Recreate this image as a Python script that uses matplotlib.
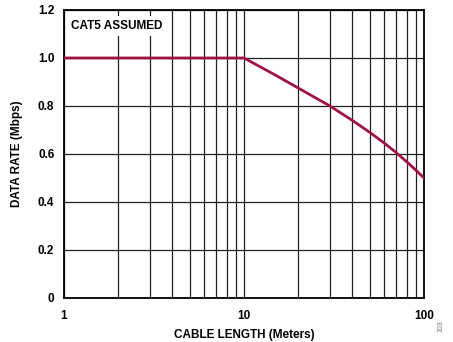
import matplotlib.pyplot as plt
from matplotlib.ticker import FixedLocator, NullFormatter

plt.rcParams['font.family'] = ['Liberation Sans', 'DejaVu Sans']

# cable length (m) vs max data rate (Mbps)
cable_length = [1, 10, 15, 20, 30, 40, 50, 60, 70, 80, 90, 100]
data_rate = [1.0, 1.0, 0.928, 0.875, 0.80, 0.74, 0.69, 0.646, 0.606, 0.568, 0.533, 0.50]

x_ticks = [1, 10, 100]
x_tick_labels = ['1', '10', '100']
y_ticks = [0, 0.2, 0.4, 0.6, 0.8, 1.0, 1.2]
y_tick_labels = ['0', '0.2', '0.4', '0.6', '0.8', '1.0', '1.2']

fig = plt.figure(figsize=(4.53, 3.42), dpi=100)
ax = fig.add_axes([0.1413, 0.1287, 0.7947, 0.8421])

ax.plot(cable_length, data_rate, color='#A3123F', linewidth=2.0, zorder=3)

ax.set_xscale('log')
ax.set_xlim(1, 100)
ax.set_ylim(0, 1.2)
ax.set_xticks(x_ticks)
ax.set_xticklabels(x_tick_labels)
ax.xaxis.set_minor_locator(FixedLocator([m * d for d in (1, 10) for m in range(2, 10)]))
ax.xaxis.set_minor_formatter(NullFormatter())
ax.set_yticks(y_ticks)
ax.set_yticklabels(y_tick_labels)

ax.grid(True, which='both', axis='x', color='#222222', linewidth=0.9)
ax.grid(True, which='major', axis='y', color='#222222', linewidth=0.9)
ax.tick_params(which='both', length=0, labelsize=8.5)
ax.tick_params(axis='x', pad=9)
ax.tick_params(axis='y', pad=7)
for lbl in ax.get_xticklabels() + ax.get_yticklabels():
    lbl.set_fontweight('bold')
for s in ax.spines.values():
    s.set_linewidth(1.3)
    s.set_color('black')

ax.set_xlabel('CABLE LENGTH (Meters)', fontsize=8.5, fontweight='bold', labelpad=5)
ax.set_ylabel('DATA RATE (Mbps)', fontsize=8.5, fontweight='bold', labelpad=11)

ax.text(0.02, 0.945, 'CAT5 ASSUMED', transform=ax.transAxes, fontsize=8.5,
        fontweight='bold', va='center', ha='left', zorder=4,
        bbox=dict(facecolor='white', edgecolor='none', pad=3))

fig.text(0.973, 0.045, '103', rotation=90, fontsize=5, color='#777777',
         ha='center', va='center')

fig.savefig('out.png', dpi=100)
